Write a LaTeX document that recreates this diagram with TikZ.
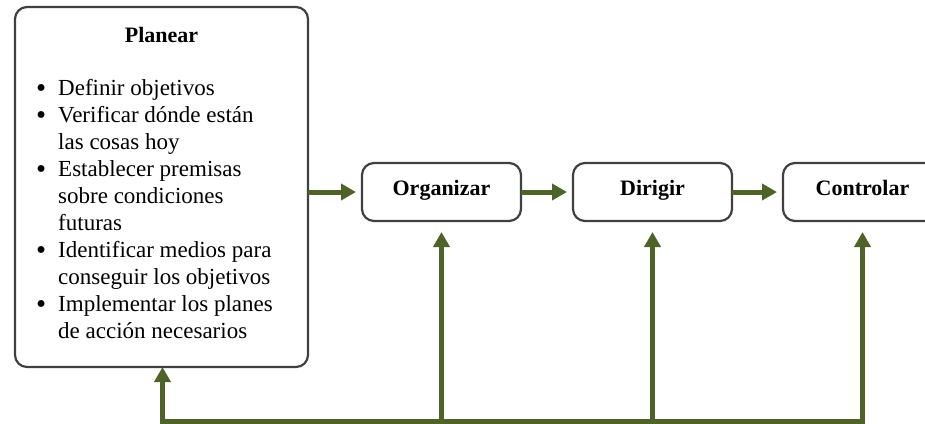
\documentclass[tikz,border=0pt]{standalone}
\usepackage{fontspec}
\setmainfont{Liberation Serif}
\usetikzlibrary{arrows.meta}

\definecolor{flowgreen}{HTML}{4F6228}
\definecolor{boxgray}{HTML}{404040}

% bullet hanging to the left of the item text
\newcommand\bul{\leavevmode\llap{\raisebox{-2.2bp}{\scalebox{1.25}{\textbullet}}\hspace{12bp}}}

\tikzset{
  box/.style={draw=boxgray, line width=2.2bp, rounded corners=12bp,
    inner sep=0pt, outer sep=0pt},
  stage/.style={box, minimum width=159bp, minimum height=58bp,
    font=\fontsize{22bp}{26bp}\selectfont\bfseries,
    text height=13bp, text depth=6bp},
  flow/.style={draw=flowgreen, line width=5bp,
    -{Triangle[length=15bp,width=16bp]}},
}

\begin{document}
\begin{tikzpicture}[x=1bp,y=-1bp]
  \useasboundingbox (0,0) rectangle (925,423);
  \clip (0,0) rectangle (925,423);

  % planning box with its list of tasks
  \node[box, anchor=north west, minimum width=293bp, minimum height=360bp]
    (plan) at (15,7) {};
  \node[anchor=base, inner sep=0pt,
    font=\fontsize{22bp}{26bp}\selectfont\bfseries] (ptitle) at (161.5,42) {Planear};
  \node[anchor=base west, inner sep=0pt] (plist) at (58,95) {%
    \parbox[t]{250bp}{\fontsize{23bp}{27bp}\selectfont\raggedright
      \bul Definir objetivos\\
      \bul Verificar dónde están\\
      las cosas hoy\\
      \bul Establecer premisas\\
      sobre condiciones\\
      futuras\\
      \bul Identificar medios para\\
      conseguir los objetivos\\
      \bul Implementar los planes\\
      de acción necesarios}};

  % the other stages
  \node[stage] (org) at (441.5,192) {Organizar};
  \node[stage] (dir) at (652.5,192) {Dirigir};
  \node[stage] (ctl) at (862.5,192) {Controlar};

  % forward flow
  \draw[flow, shorten >=6bp] (plan.east |- org) -- (org.west);
  \draw[flow, shorten >=6bp] (org.east) -- (dir.west);
  \draw[flow, shorten >=6bp] (dir.east) -- (ctl.west);

  % feedback line along the bottom
  \coordinate (f1) at (162.5,421);
  \coordinate (f2) at (441.5,421);
  \coordinate (f3) at (652.5,421);
  \coordinate (f4) at (862.5,421);
  \draw[flow, line cap=rect] (f4) -- (f1) -- (plan.south -| f1);
  \draw[flow, shorten >=11bp] (f2) -- (org.south);
  \draw[flow, shorten >=11bp] (f3) -- (dir.south);
  \draw[flow, line cap=rect, shorten >=11bp] (f4) -- (ctl.south);
\end{tikzpicture}
\end{document}
